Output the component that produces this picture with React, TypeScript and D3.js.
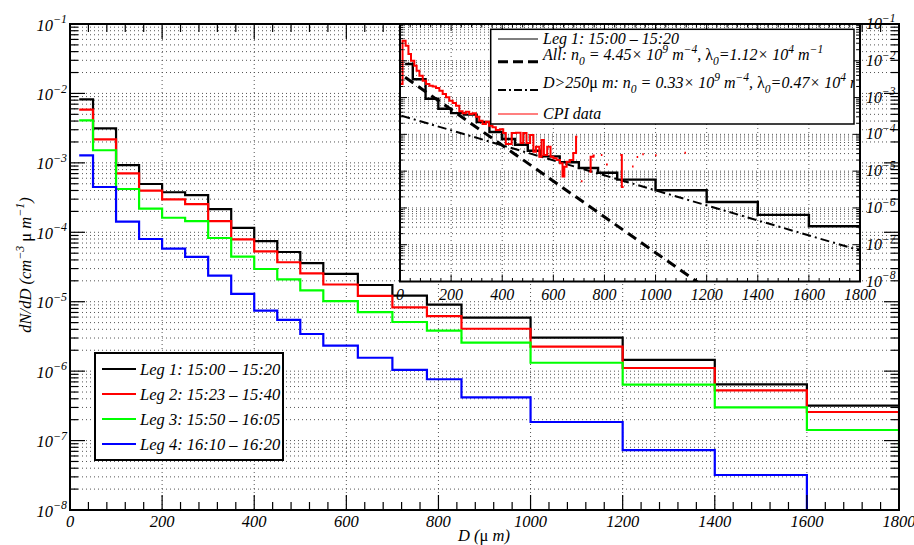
import React from 'react';
import * as d3 from 'd3';

// ---------------- data ----------------
const binEdges = [20, 50, 100, 150, 200, 250, 300, 350, 400, 450, 500, 550, 625, 700, 775, 850, 1000, 1200, 1400, 1600, 1800, 2000];

const leg1Values = [8.2e-3, 3.14e-3, 9.3e-4, 4.96e-4, 3.77e-4, 3.44e-4, 2.16e-4, 1.16e-4, 7.45e-5, 5.2e-5, 3.6e-5, 2.52e-5, 1.74e-5, 1.22e-5, 9.06e-6, 5.89e-6, 3.03e-6, 1.45e-6, 6.46e-7, 3.18e-7, 2.9e-7];
const leg2Values = [5.83e-3, 2.18e-3, 7.06e-4, 3.97e-4, 2.98e-4, 2.55e-4, 1.45e-4, 7.9e-5, 5.3e-5, 3.7e-5, 2.56e-5, 1.77e-5, 1.21e-5, 8.3e-6, 6.22e-6, 4.08e-6, 2.25e-6, 1.11e-6, 5.3e-7, 2.58e-7, 1.52e-7];
const leg3Values = [4.1e-3, 1.52e-3, 4.2e-4, 2.19e-4, 1.62e-4, 1.45e-4, 8.28e-5, 4.46e-5, 2.96e-5, 2.1e-5, 1.46e-5, 1.02e-5, 7.1e-6, 5.1e-6, 3.83e-6, 2.57e-6, 1.32e-6, 6.38e-7, 3.01e-7, 1.42e-7, 6.85e-8];
const leg4Values = [1.28e-3, 4.49e-4, 1.42e-4, 8.0e-5, 5.8e-5, 4.41e-5, 2.37e-5, 1.3e-5, 7.43e-6, 5.46e-6, 3.43e-6, 2.33e-6, 1.56e-6, 1.04e-6, 7.64e-7, 4.2e-7, 1.85e-7, 7.3e-8, 3.19e-8, 0, 0];

const legLabels = ['Leg 1: 15:00 \u2013 15:20', 'Leg 2: 15:23 \u2013 15:40', 'Leg 3: 15:50 \u2013 16:05', 'Leg 4: 16:10 \u2013 16:20'];
const legColors = ['#000000', '#ff0000', '#00ff00', '#0000ff'];

// CPI data (fine bins, lower edge / upper edge / value)
const cpiLo = [4, 10, 22, 33, 43, 56, 65, 76, 89, 102, 115, 128, 141, 154, 167, 180, 193, 206, 219, 232, 245, 258, 271, 284, 297, 310, 323, 336, 349, 362, 375, 391, 404, 414, 437, 454, 472, 482, 495, 509, 522, 532, 545, 554, 563, 576, 589, 600, 613, 626, 636, 643, 652, 665, 678, 689,
  708, 741, 746, 757, 786, 806, 862, 868, 908, 926, 948, 998, 1113];
const cpiHi = [10, 22, 33, 43, 56, 65, 76, 89, 102, 115, 128, 141, 154, 167, 180, 193, 206, 219, 232, 245, 258, 271, 284, 297, 310, 323, 336, 349, 362, 375, 391, 404, 414, 437, 454, 472, 482, 495, 509, 522, 532, 545, 554, 563, 576, 589, 600, 613, 626, 636, 643, 652, 665, 678, 689, 694,
  714, 746, 757, 762, 792, 813, 868, 875, 914, 932, 954, 1004, 1119];
const cpiValues = [2.34e-3, 3.52e-2, 2.57e-2, 1.53e-2, 1.01e-2, 7.37e-3, 5.38e-3, 3.94e-3, 2.88e-3, 2.34e-3, 2.11e-3, 2.0e-3, 1.82e-3, 1.54e-3, 1.25e-3, 1.02e-3, 8.24e-4, 7.13e-4, 6.02e-4, 4.25e-4, 3.74e-4, 4.14e-4, 3.58e-4, 3.74e-4, 3.03e-4, 2.36e-4, 1.92e-4, 2.21e-4, 1.72e-4, 1.56e-4, 1.32e-4, 1.38e-4, 1.09e-4, 5.48e-5, 1.09e-4, 1.11e-4, 5.83e-5, 1.09e-4, 5.83e-5, 9.64e-5, 3.39e-5, 4.63e-5, 2.48e-5, 7.05e-5, 2.75e-5, 4.63e-5, 2.48e-5, 2.24e-5, 2.02e-5, 1.64e-5, 7.1e-6, 1.32e-5, 1.81e-5, 2.02e-5, 3.13e-5, 8.65e-5,
  5.32e-6, 9.7e-6, 2.48e-5, 2.67e-5, 2.75e-5, 1.52e-5, 2.75e-5, 3.72e-6, 1.34e-5, 2.43e-5, 2.88e-5, 2.7e-5, 3.18e-5];

// exponential fits (n0 in m^-4, lambda in m^-1), drawn over a D range (um)
const fitAll = { n0: 4.45e9, lambda: 1.12e4, dMin: 20, dMax: 1800 };
const fitLarge = { n0: 0.33e9, lambda: 0.47e4, dMin: 5, dMax: 1800 };

const xTicks = [0, 200, 400, 600, 800, 1000, 1200, 1400, 1600, 1800];
const decadeExps = [-8, -7, -6, -5, -4, -3, -2, -1];

// ---------------- helpers ----------------
const FONT = "'Liberation Serif', 'Times New Roman', Times, serif";
const MINUS = '\u2212';

type Part = [string, number?, boolean?]; // text, 0 normal / 1 sup / 2 sub, upright

function Rich({ x, y, parts, size, anchor = 'start' }: { x: number; y: number; parts: Part[]; size: number; anchor?: string }) {
  let cur = 0;
  const small = size * 0.72;
  return (
    <text x={x} y={y} style={{ fontFamily: FONT, fontStyle: 'italic', fontSize: size }} textAnchor={anchor} fill="#000">
      {parts.map((p, i) => {
        const kind = p[1] || 0;
        const target = kind === 1 ? -size * 0.45 : kind === 2 ? size * 0.32 : 0;
        const dy = target - cur;
        cur = target;
        return (
          <tspan key={i} dy={dy} style={{ fontSize: kind ? small : size, fontStyle: p[2] ? 'normal' : 'italic' }}>
            {p[0]}
          </tspan>
        );
      })}
    </text>
  );
}

function stepPath(edges: number[], vals: number[], xs: (v: number) => number, ys: (v: number) => number, floor: number) {
  let p = '';
  vals.forEach((v, i) => {
    const yy = v > 0 ? ys(v) : floor;
    p += i === 0 ? `M${xs(edges[0])},${yy}` : `V${yy}`;
    p += `H${xs(edges[i + 1])}`;
  });
  return p;
}

function runsPath(lo: number[], hi: number[], vals: number[], xs: (v: number) => number, ys: (v: number) => number) {
  let p = '';
  for (let i = 0; i < vals.length; i++) {
    const yy = ys(vals[i]);
    if (i === 0 || lo[i] !== hi[i - 1]) p += `M${xs(lo[i])},${yy}`;
    else p += `V${yy}`;
    p += `H${xs(hi[i])}`;
  }
  return p;
}

export default function App() {
  const W = 914, H = 545;
  const mL = 70, mR = 899, mT = 24, mB = 510;
  const iL = 400, iR = 860, iT = 24, iB = 281.5;
  const lgX = 490.7, lgY = 29.3, lgW = 363.3, lgH = 94.7;

  const x = d3.scaleLinear().domain([0, 1800]).range([mL, mR]);
  const y = d3.scaleLog().domain([1e-8, 1e-1]).range([mB, mT]);
  const xi = d3.scaleLinear().domain([0, 1800]).range([iL, iR]);
  const yi = d3.scaleLog().domain([1e-8, 1e-1]).range([iB, iT]);

  const decades = decadeExps.map((e) => Math.pow(10, e));
  const minors: number[] = [];
  decadeExps.slice(0, -1).forEach((e) => {
    for (let k = 2; k <= 9; k++) minors.push(k * Math.pow(10, e));
  });
  const xMinor = d3.range(0, 1801, 40).filter((v) => v % 200 !== 0);
  const gridY = [...decades, ...minors];
  const xGrid = xTicks.slice(1, -1);

  const dot = '1 3';
  const gridColor = '#555';
  const txt = { fontFamily: FONT, fontStyle: 'italic' as const };

  const legendSeries = [leg1Values, leg2Values, leg3Values, leg4Values];

  const fitLine = (f: typeof fitAll) => {
    const pts: [number, number][] = [f.dMin, f.dMax].map((d) => [d, f.n0 * 1e-12 * Math.exp(-f.lambda * 1e-6 * d)]);
    return d3.line<[number, number]>().x((p) => xi(p[0])).y((p) => yi(p[1]))(pts) || '';
  };

  return (
    <svg width={W} height={H} style={{ position: 'absolute', left: 0, top: 0, background: '#fff' }}>
      <defs>
        <clipPath id="mainClip"><rect x={mL} y={mT} width={mR - mL} height={mB - mT} /></clipPath>
        <clipPath id="insetClip"><rect x={iL} y={iT} width={iR - iL} height={iB - iT} /></clipPath>
        <clipPath id="insetLegClip"><rect x={lgX} y={lgY} width={lgW} height={lgH} /></clipPath>
      </defs>
      <rect x={0} y={0} width={W} height={H} fill="#fff" />

      {/* main grid */}
      <g stroke={gridColor} strokeWidth={1} strokeDasharray={dot}>
        {gridY.map((v, i) => (
          <line key={'gy' + i} x1={mL} x2={mR} y1={y(v)} y2={y(v)} />
        ))}
        {xGrid.map((v) => (
          <line key={'gx' + v} x1={x(v)} x2={x(v)} y1={mT} y2={mB} />
        ))}
      </g>

      {/* main histograms */}
      <g clipPath="url(#mainClip)" fill="none" strokeWidth={2.2}>
        {legendSeries.map((vals, i) => (
          <path key={i} d={stepPath(binEdges, vals, x, y, mB + 30)} stroke={legColors[i]} />
        ))}
      </g>

      {/* main frame and ticks */}
      <g stroke="#000" strokeWidth={1.2}>
        {xTicks.map((v) => (
          <g key={'xt' + v}>
            <line x1={x(v)} x2={x(v)} y1={mB} y2={mB - 15} />
            <line x1={x(v)} x2={x(v)} y1={mT} y2={mT + 15} />
          </g>
        ))}
        {xMinor.map((v) => (
          <g key={'xm' + v}>
            <line x1={x(v)} x2={x(v)} y1={mB} y2={mB - 8} />
            <line x1={x(v)} x2={x(v)} y1={mT} y2={mT + 8} />
          </g>
        ))}
        {decades.map((v, i) => (
          <g key={'yt' + i}>
            <line x1={mL} x2={mL + 15} y1={y(v)} y2={y(v)} />
            <line x1={mR} x2={mR - 15} y1={y(v)} y2={y(v)} />
          </g>
        ))}
        {minors.map((v, i) => (
          <g key={'ym' + i}>
            <line x1={mL} x2={mL + 8} y1={y(v)} y2={y(v)} />
            <line x1={mR} x2={mR - 8} y1={y(v)} y2={y(v)} />
          </g>
        ))}
      </g>
      <rect x={mL} y={mT} width={mR - mL} height={mB - mT} fill="none" stroke="#000" strokeWidth={2} />

      {/* main tick labels */}
      {xTicks.map((v) => (
        <text key={'xl' + v} x={x(v)} y={527} style={{ ...txt, fontSize: 16.5 }} textAnchor="middle">
          {v}
        </text>
      ))}
      {decadeExps.map((e) => (
        <Rich key={'yl' + e} x={67} y={y(Math.pow(10, e)) + 6.5} size={16.5} anchor="end" parts={[['10'], [MINUS + Math.abs(e), 1]]} />
      ))}

      {/* axis titles */}
      <Rich x={484} y={541} size={16.5} anchor="middle" parts={[['D ('], ['\u03bc', 0, true], [' m)']]} />
      <g transform="translate(31,265) rotate(-90)">
        <Rich x={0} y={0} size={16.5} anchor="middle" parts={[['dN/dD (cm'], [MINUS + '3', 1], [' ', 0], ['\u03bc', 0, true], [' m'], [MINUS + '1', 1], [')']]} />
      </g>

      {/* main legend */}
      <rect x={95} y={353} width={188} height={107} fill="#fff" stroke="#000" strokeWidth={2} />
      {legLabels.map((lab, i) => {
        const yy = 369 + i * 25;
        return (
          <g key={'lg' + i}>
            <line x1={102} x2={136} y1={yy} y2={yy} stroke={legColors[i]} strokeWidth={2} />
            <text x={140} y={yy + 5.5} style={{ ...txt, fontSize: 16.5 }}>
              {lab}
            </text>
          </g>
        );
      })}

      {/* ---------------- inset ---------------- */}
      <rect x={iL} y={iT} width={iR - iL} height={iB - iT} fill="#fff" />
      <g stroke={gridColor} strokeWidth={1} strokeDasharray={dot}>
        {gridY.map((v, i) => (
          <line key={'igy' + i} x1={iL} x2={iR} y1={yi(v)} y2={yi(v)} />
        ))}
        {xGrid.map((v) => (
          <line key={'igx' + v} x1={xi(v)} x2={xi(v)} y1={iT} y2={iB} />
        ))}
      </g>
      <g clipPath="url(#insetClip)" fill="none">
        <path d={fitLine(fitAll)} stroke="#000" strokeWidth={3} strokeDasharray="10 6" />
        <path d={fitLine(fitLarge)} stroke="#000" strokeWidth={2} strokeDasharray="9 4 2 4" />
        <path d={stepPath(binEdges, leg1Values, xi, yi, iB + 30)} stroke="#000" strokeWidth={2.4} />
        <path d={runsPath(cpiLo, cpiHi, cpiValues, xi, yi)} stroke="#ff0000" strokeWidth={2} />
      </g>
      <g stroke="#000" strokeWidth={1}>
        {xTicks.map((v) => (
          <g key={'ixt' + v}>
            <line x1={xi(v)} x2={xi(v)} y1={iB} y2={iB - 7} />
            <line x1={xi(v)} x2={xi(v)} y1={iT} y2={iT + 7} />
          </g>
        ))}
        {xMinor.map((v) => (
          <g key={'ixm' + v}>
            <line x1={xi(v)} x2={xi(v)} y1={iB} y2={iB - 3.5} />
            <line x1={xi(v)} x2={xi(v)} y1={iT} y2={iT + 3.5} />
          </g>
        ))}
        {decades.map((v, i) => (
          <g key={'iyt' + i}>
            <line x1={iL} x2={iL + 7} y1={yi(v)} y2={yi(v)} />
            <line x1={iR} x2={iR - 7} y1={yi(v)} y2={yi(v)} />
          </g>
        ))}
        {minors.map((v, i) => (
          <g key={'iym' + i}>
            <line x1={iL} x2={iL + 3.5} y1={yi(v)} y2={yi(v)} />
            <line x1={iR} x2={iR - 3.5} y1={yi(v)} y2={yi(v)} />
          </g>
        ))}
      </g>
      <rect x={iL} y={iT} width={iR - iL} height={iB - iT} fill="none" stroke="#000" strokeWidth={2} />
      {xTicks.map((v) => (
        <text key={'ixl' + v} x={xi(v)} y={299.5} style={{ ...txt, fontSize: 16 }} textAnchor="middle">
          {v}
        </text>
      ))}
      {decadeExps.map((e) => (
        <Rich key={'iyl' + e} x={866} y={yi(Math.pow(10, e)) + 5} size={16} parts={[['10'], [MINUS + Math.abs(e), 1]]} />
      ))}

      {/* inset legend */}
      <rect x={lgX} y={lgY} width={lgW} height={lgH} fill="#fff" stroke="#000" strokeWidth={1.5} />
      <g clipPath="url(#insetLegClip)">
        <line x1={498} x2={538} y1={39} y2={39} stroke="#000" strokeWidth={1.2} />
        <Rich x={543} y={43.5} size={16} parts={[[legLabels[0]]]} />
        <line x1={498} x2={538} y1={61.7} y2={61.7} stroke="#000" strokeWidth={3} strokeDasharray="10 5" />
        <Rich
          x={543}
          y={60}
          size={16}
          parts={[
            ['All: n'], ['0', 2], [' = 4.45\u00d7 10'], ['9', 1], [' m'], [MINUS + '4', 1], [', '], ['\u03bb', 0, true], ['0', 2],
            ['=1.12\u00d7 10'], ['4', 1], [' m'], [MINUS + '1', 1],
          ]}
        />
        <line x1={498} x2={538} y1={90} y2={90} stroke="#000" strokeWidth={2} strokeDasharray="8 3 2 3" />
        <Rich
          x={543}
          y={88}
          size={16}
          parts={[
            ['D>250'], ['\u03bc', 0, true], [' m: n'], ['0', 2], [' = 0.33\u00d7 10'], ['9', 1], [' m'], [MINUS + '4', 1], [', '], ['\u03bb', 0, true], ['0', 2],
            ['=0.47\u00d7 10'], ['4', 1], [' m'], [MINUS + '1', 1],
          ]}
        />
        <line x1={498} x2={538} y1={114} y2={114} stroke="#ff0000" strokeWidth={1.2} />
        <Rich x={543} y={119} size={16} parts={[['CPI data']]} />
      </g>
    </svg>
  );
}
